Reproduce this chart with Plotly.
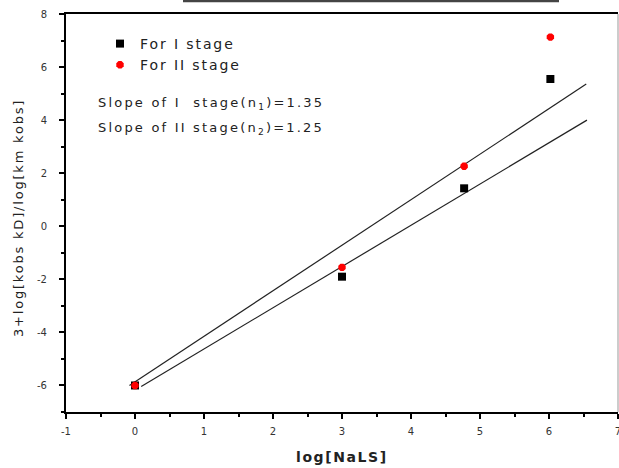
import plotly.graph_objects as go

# Data
log_nals = [0.0, 3.0, 4.77, 6.02]
stage1_y = [-6.0, -1.9, 1.43, 5.55]
stage2_y = [-6.0, -1.55, 2.26, 7.13]

# fitted lines (endpoints)
fit_upper_x = [-0.08, 6.54]
fit_upper_y = [-6.0, 5.36]
fit_lower_x = [0.09, 6.55]
fit_lower_y = [-6.04, 4.0]

x_ticks = [-1, 0, 1, 2, 3, 4, 5, 6, 7]
y_ticks = [-6, -4, -2, 0, 2, 4, 6, 8]
x_ticktext = ["-1", "0", "1", "2", "3", "4", "5", "6", "7"]
y_ticktext = ["-6", "-4", "-2", "0", "2", "4", "6", "8"]

FONT = "DejaVu Sans, Verdana, sans-serif"
L, R, T, B = 66, 1, 14, 56
PW, PH = 619 - L - R, 468 - T - B


def px_x(p):
    return (p - L) / PW


def px_y(p):
    return (468 - B - p) / PH


def spaced(s, px):
    return f'<span style="letter-spacing:{px}px">{s}</span>'


fig = go.Figure()
fig.add_trace(go.Scatter(x=fit_upper_x, y=fit_upper_y, mode="lines",
                         line=dict(color="#222", width=1.2), showlegend=False))
fig.add_trace(go.Scatter(x=fit_lower_x, y=fit_lower_y, mode="lines",
                         line=dict(color="#222", width=1.2), showlegend=False))
fig.add_trace(go.Scatter(x=log_nals, y=stage1_y, mode="markers", name=spaced("For I stage", 1.9),
                         marker=dict(symbol="square", color="black", size=8)))
fig.add_trace(go.Scatter(x=log_nals, y=stage2_y, mode="markers", name=spaced("For II stage", 1.9),
                         marker=dict(symbol="octagon", color="red", size=8)))

axis_common = dict(
    showgrid=False, zeroline=False, showline=True, linecolor="black", linewidth=2,
    ticks="outside", ticklen=5, tickwidth=2, tickcolor="black", automargin=False,
    ticklabeloverflow="allow",
    tickfont=dict(family=FONT, size=10, color="#333"),
)

fig.update_layout(
    width=619, height=468,
    margin=dict(l=L, r=R, t=T, b=B),
    paper_bgcolor="white", plot_bgcolor="white",
    showlegend=True,
    legend=dict(x=px_x(100), y=px_y(28), xanchor="left", yanchor="top",
                bgcolor="rgba(0,0,0,0)", font=dict(family=FONT, size=14, color="#222"),
                itemwidth=30, tracegroupgap=2),
    xaxis=dict(range=[-1, 7], tickvals=x_ticks, ticktext=x_ticktext, ticklabelstandoff=4,
               mirror=True,
               minor=dict(dtick=0.5, ticks="outside", ticklen=3, tickwidth=1.5, tickcolor="black"),
               **axis_common),
    yaxis=dict(range=[-7, 8], tickvals=y_ticks, ticktext=y_ticktext, ticklabelstandoff=10,
               minor=dict(dtick=1, ticks="outside", ticklen=3, tickwidth=1.5, tickcolor="black"),
               **axis_common),
    shapes=[
        # right frame
        dict(type="line", xref="paper", yref="paper", x0=1, x1=1, y0=0, y1=1,
             line=dict(color="#999", width=1)),
        # clipped title box at top
        dict(type="line", xref="paper", yref="paper", x0=px_x(183), x1=px_x(559),
             y0=px_y(1), y1=px_y(1), line=dict(color="#444", width=2.5)),
    ],
    annotations=[
        dict(text=spaced("<b>log[NaLS]</b>", 1.6), xref="paper", yref="paper",
             x=px_x(342), y=px_y(457), xanchor="center", yanchor="middle",
             showarrow=False, font=dict(family=FONT, size=14, color="#222")),
        dict(text=spaced("3+log[kobs kD]/log[km kobs]", 1.8), xref="paper", yref="paper",
             x=px_x(18), y=px_y(218), xanchor="center", yanchor="middle", textangle=-90,
             showarrow=False, font=dict(family=FONT, size=13, color="#222")),
        dict(text=spaced("Slope of I  stage(n<sub>1</sub>)=1.35", 2.2), xref="paper", yref="paper",
             x=px_x(96), y=px_y(103), xanchor="left", yanchor="middle",
             showarrow=False, font=dict(family=FONT, size=13, color="#222")),
        dict(text=spaced("Slope of II stage(n<sub>2</sub>)=1.25", 2.2), xref="paper", yref="paper",
             x=px_x(96), y=px_y(128), xanchor="left", yanchor="middle",
             showarrow=False, font=dict(family=FONT, size=13, color="#222")),
    ],
)

fig.write_html("out.html", config={"displayModeBar": False},
               post_script="document.body.style.margin='0';")
